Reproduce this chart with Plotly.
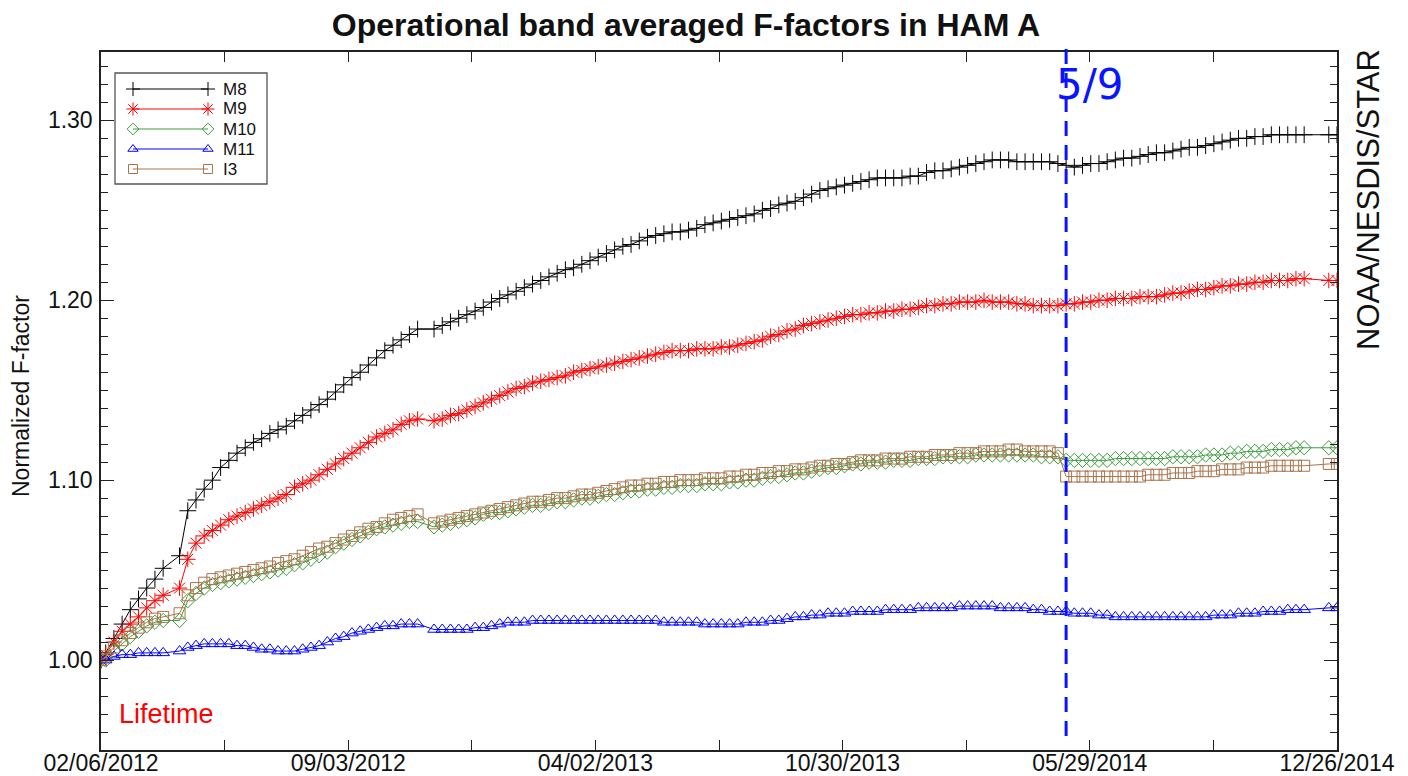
import pandas as pd
import plotly.graph_objects as go

# ---- sampling dates -------------------------------------------------------
FIRST_DAY = "2012-02-06"
LAST_DAY = "2014-12-26"
FIRST_FRIDAY = "2012-02-10"
N_FRIDAYS = 150
MISSING_WEEKS = [8, 39, 147, 148]
EVENT_DAY = "2014-05-09"

TICK_LABELS = ["02/06/2012", "09/03/2012", "04/02/2013",
               "10/30/2013", "05/29/2014", "12/26/2014"]

# ---- band averaged F-factors, normalized to the first value --------------
M8 = [1.000,
      1.004, 1.012, 1.020, 1.028, 1.034, 1.040, 1.045, 1.051,
      1.058, 1.083, 1.089, 1.095, 1.100, 1.107, 1.111, 1.115, 1.118, 1.121,
      1.123, 1.126, 1.128, 1.130, 1.133, 1.136, 1.139, 1.142, 1.145, 1.149,
      1.153, 1.157, 1.160, 1.164, 1.168, 1.172, 1.175, 1.178, 1.181, 1.184,
      1.184, 1.186, 1.188, 1.190, 1.192, 1.194, 1.196, 1.199, 1.201, 1.203,
      1.205, 1.207, 1.209, 1.211, 1.213, 1.215, 1.217, 1.218, 1.220, 1.222,
      1.224, 1.226, 1.228, 1.230, 1.231, 1.233, 1.235, 1.236, 1.237, 1.238,
      1.238, 1.239, 1.240, 1.242, 1.243, 1.244, 1.245, 1.246, 1.247, 1.248,
      1.250, 1.251, 1.253, 1.254, 1.255, 1.257, 1.259, 1.261, 1.262, 1.263,
      1.264, 1.265, 1.266, 1.267, 1.268, 1.268, 1.268, 1.268, 1.269, 1.269,
      1.271, 1.272, 1.272, 1.273, 1.274, 1.275, 1.276, 1.277, 1.278, 1.278,
      1.278, 1.277, 1.277, 1.277, 1.277, 1.277, 1.276, 1.275, 1.274, 1.275,
      1.276, 1.276, 1.277, 1.278, 1.279, 1.279, 1.280, 1.281, 1.282, 1.282,
      1.283, 1.284, 1.285, 1.285, 1.286, 1.287, 1.288, 1.289, 1.290, 1.290,
      1.291, 1.291, 1.292, 1.292, 1.292, 1.292, 1.292,
      1.292, 1.292]

M9 = [1.000,
      1.003, 1.010, 1.016, 1.020, 1.024, 1.029, 1.033, 1.036,
      1.040, 1.056, 1.065, 1.069, 1.072, 1.075, 1.078, 1.080, 1.082, 1.084,
      1.086, 1.088, 1.090, 1.092, 1.096, 1.098, 1.100, 1.103, 1.106, 1.109,
      1.112, 1.115, 1.118, 1.121, 1.124, 1.126, 1.128, 1.131, 1.133, 1.134,
      1.133, 1.134, 1.136, 1.137, 1.139, 1.141, 1.143, 1.145, 1.147, 1.149,
      1.151, 1.152, 1.154, 1.155, 1.156, 1.157, 1.158, 1.160, 1.161, 1.162,
      1.163, 1.164, 1.165, 1.166, 1.167, 1.168, 1.169, 1.170, 1.171, 1.172,
      1.172, 1.172, 1.173, 1.173, 1.173, 1.174, 1.174, 1.175, 1.176, 1.177,
      1.178, 1.180, 1.181, 1.183, 1.184, 1.186, 1.187, 1.188, 1.189, 1.190,
      1.191, 1.192, 1.192, 1.193, 1.193, 1.194, 1.194, 1.195, 1.195, 1.196,
      1.197, 1.197, 1.198, 1.198, 1.199, 1.199, 1.199, 1.200, 1.199, 1.199,
      1.199, 1.198, 1.198, 1.197, 1.197, 1.197, 1.197, 1.198, 1.198, 1.199,
      1.199, 1.200, 1.200, 1.201, 1.201, 1.201, 1.202, 1.202, 1.202, 1.203,
      1.204, 1.204, 1.205, 1.206, 1.206, 1.207, 1.208, 1.208, 1.209, 1.209,
      1.210, 1.210, 1.211, 1.211, 1.211, 1.212, 1.212,
      1.211, 1.211]

M10 = [1.000,
       1.000, 1.005, 1.009, 1.013, 1.016, 1.019, 1.021, 1.022,
       1.022, 1.033, 1.037, 1.040, 1.042, 1.043, 1.044, 1.045, 1.046, 1.047,
       1.048, 1.049, 1.050, 1.051, 1.053, 1.054, 1.056, 1.058, 1.060, 1.063,
       1.065, 1.067, 1.069, 1.071, 1.073, 1.074, 1.075, 1.076, 1.077, 1.077,
       1.074, 1.075, 1.076, 1.077, 1.078, 1.079, 1.081, 1.082, 1.082, 1.083,
       1.084, 1.085, 1.086, 1.086, 1.087, 1.088, 1.088, 1.089, 1.090, 1.090,
       1.091, 1.092, 1.092, 1.093, 1.094, 1.094, 1.095, 1.095, 1.096, 1.096,
       1.097, 1.097, 1.097, 1.098, 1.098, 1.098, 1.099, 1.099, 1.100, 1.100,
       1.101, 1.102, 1.102, 1.103, 1.104, 1.104, 1.105, 1.106, 1.107, 1.107,
       1.108, 1.109, 1.109, 1.110, 1.110, 1.110, 1.111, 1.111, 1.111, 1.112,
       1.112, 1.112, 1.113, 1.113, 1.113, 1.113, 1.114, 1.114, 1.114, 1.114,
       1.114, 1.114, 1.114, 1.114, 1.113, 1.113, 1.113, 1.111, 1.111, 1.111,
       1.111, 1.111, 1.111, 1.112, 1.112, 1.112, 1.112, 1.112, 1.112, 1.112,
       1.113, 1.113, 1.113, 1.113, 1.114, 1.114, 1.114, 1.115, 1.115, 1.116,
       1.116, 1.116, 1.117, 1.117, 1.117, 1.118, 1.118,
       1.118, 1.118]

M11 = [1.000,
       1.000, 1.002, 1.003, 1.003, 1.004, 1.004, 1.004, 1.004,
       1.005, 1.007, 1.008, 1.009, 1.009, 1.009, 1.009, 1.008, 1.008, 1.007,
       1.006, 1.006, 1.005, 1.005, 1.005, 1.006, 1.007, 1.008, 1.010, 1.012,
       1.013, 1.015, 1.016, 1.017, 1.018, 1.019, 1.019, 1.020, 1.020, 1.020,
       1.017, 1.017, 1.017, 1.017, 1.017, 1.018, 1.018, 1.019, 1.020, 1.021,
       1.021, 1.021, 1.022, 1.022, 1.022, 1.022, 1.022, 1.022, 1.022, 1.022,
       1.022, 1.022, 1.022, 1.022, 1.022, 1.022, 1.022, 1.022, 1.021, 1.021,
       1.021, 1.021, 1.021, 1.020, 1.020, 1.020, 1.020, 1.020, 1.021, 1.021,
       1.021, 1.022, 1.022, 1.023, 1.024, 1.024, 1.025, 1.025, 1.026, 1.026,
       1.026, 1.027, 1.027, 1.027, 1.027, 1.028, 1.028, 1.028, 1.028, 1.029,
       1.029, 1.029, 1.029, 1.029, 1.030, 1.030, 1.030, 1.030, 1.030, 1.029,
       1.029, 1.029, 1.029, 1.028, 1.028, 1.027, 1.027, 1.027, 1.026, 1.026,
       1.026, 1.025, 1.025, 1.024, 1.024, 1.024, 1.024, 1.024, 1.024, 1.024,
       1.024, 1.024, 1.024, 1.024, 1.024, 1.025, 1.025, 1.025, 1.026, 1.026,
       1.026, 1.027, 1.027, 1.027, 1.028, 1.028, 1.028,
       1.029, 1.029]

I3 = [1.000,
      1.002, 1.007, 1.011, 1.015, 1.018, 1.021, 1.023, 1.024,
      1.026, 1.036, 1.040, 1.043, 1.045, 1.046, 1.047, 1.048, 1.049, 1.050,
      1.051, 1.052, 1.054, 1.055, 1.056, 1.058, 1.060, 1.062, 1.063, 1.065,
      1.067, 1.069, 1.071, 1.073, 1.074, 1.076, 1.078, 1.079, 1.080, 1.081,
      1.076, 1.077, 1.078, 1.079, 1.080, 1.081, 1.082, 1.083, 1.084, 1.085,
      1.086, 1.087, 1.088, 1.088, 1.089, 1.090, 1.090, 1.091, 1.092, 1.092,
      1.093, 1.094, 1.095, 1.096, 1.097, 1.097, 1.098, 1.098, 1.099, 1.099,
      1.100, 1.100, 1.100, 1.101, 1.101, 1.101, 1.102, 1.102, 1.103, 1.103,
      1.104, 1.104, 1.105, 1.105, 1.106, 1.106, 1.107, 1.108, 1.108, 1.109,
      1.109, 1.110, 1.111, 1.111, 1.111, 1.112, 1.112, 1.112, 1.113, 1.113,
      1.113, 1.114, 1.114, 1.114, 1.115, 1.115, 1.115, 1.116, 1.116, 1.116,
      1.117, 1.117, 1.116, 1.116, 1.116, 1.116, 1.115, 1.102, 1.102, 1.102,
      1.102, 1.102, 1.102, 1.102, 1.102, 1.102, 1.102, 1.103, 1.103, 1.103,
      1.104, 1.104, 1.104, 1.105, 1.105, 1.105, 1.106, 1.106, 1.106, 1.107,
      1.107, 1.107, 1.108, 1.108, 1.108, 1.108, 1.108,
      1.109, 1.109]

BANDS = ["M8", "M9", "M10", "M11", "I3"]
COLORS = ["#000000", "#ff0000", "#3c9c3c", "#0000ff", "#a8744c"]
SYMBOLS = ["cross-thin", "asterisk-open", "diamond-open",
           "triangle-up-open", "square-open"]
SIZES = [12, 13, 11, 11, 11]
VALUES = [M8, M9, M10, M11, I3]

# ---- build the date axis --------------------------------------------------
fridays = pd.date_range(FIRST_FRIDAY, periods=N_FRIDAYS, freq="7D")
fridays = [d for i, d in enumerate(fridays) if i not in MISSING_WEEKS]
dates = [pd.Timestamp(FIRST_DAY)] + list(fridays) + [pd.Timestamp(LAST_DAY)]
for v in VALUES:
    assert len(v) == len(dates), (len(v), len(dates))

t0, t1 = pd.Timestamp(FIRST_DAY), pd.Timestamp(LAST_DAY)
step = (t1 - t0) / 10
tickvals = [t0 + step * i for i in range(11)]
ticktext = [TICK_LABELS[i // 2] if i % 2 == 0 else "" for i in range(11)]

FONT = "Liberation Sans, Arial, Helvetica, sans-serif"

# plot area in pixels (left, top, right, bottom) of a 1408x776 page
L, T, R, B = 101, 52, 1337, 750
W, H = 1408, 776


def px(x):
    return (x - L) / (R - L)


def py(y):
    return (B - y) / (B - T)


fig = go.Figure()

for name, vals, col, sym, size in zip(BANDS, VALUES, COLORS, SYMBOLS, SIZES):
    fig.add_trace(go.Scatter(
        x=dates, y=vals, mode="lines+markers", name=name, showlegend=False,
        line=dict(color=col, width=1),
        marker=dict(symbol=sym, size=size, color=col,
                    line=dict(color=col, width=1)),
    ))

# ---- hand-drawn key box in the upper left --------------------------------
key_rows = [89, 109, 129, 149, 169]
for name, col, sym, size, ry in zip(BANDS, COLORS, SYMBOLS, SIZES, key_rows):
    fig.add_trace(go.Scatter(
        x=[px(133), px(208)], y=[py(ry), py(ry)], xaxis="x2", yaxis="y2",
        mode="lines+markers", showlegend=False, hoverinfo="skip",
        cliponaxis=False,
        line=dict(color=col, width=1),
        marker=dict(symbol=sym, size=size - 2, color=col,
                    line=dict(color=col, width=1)),
    ))
    fig.add_annotation(xref="paper", yref="paper", x=px(221), y=py(ry),
                       text=name, showarrow=False, xanchor="left",
                       yanchor="middle",
                       font=dict(family=FONT, size=17, color="#111"))

fig.add_shape(type="rect", xref="paper", yref="paper",
              x0=px(115), x1=px(267), y0=py(184), y1=py(73),
              line=dict(color="#555", width=1.3), fillcolor="white",
              layer="below")

# ---- event marker ---------------------------------------------------------
fig.add_shape(type="line", xref="x", yref="paper", x0=EVENT_DAY, x1=EVENT_DAY,
              y0=py(736), y1=py(48),
              line=dict(color="#0a14ff", width=3, dash="15px,9px"))
fig.add_annotation(xref="x", yref="paper", x=EVENT_DAY, y=py(84),
                   text="5/9", showarrow=False, xanchor="left",
                   yanchor="middle", xshift=-12,
                   font=dict(family="DejaVu Sans, sans-serif", size=42,
                             color="#0a14ff"))

# ---- text labels ----------------------------------------------------------
fig.add_annotation(xref="paper", yref="paper", x=px(117), y=py(714),
                   text="Lifetime", showarrow=False, xanchor="left",
                   yanchor="middle",
                   font=dict(family=FONT, size=27, color="#ff0000"))
fig.add_annotation(xref="paper", yref="paper", x=px(1368), y=py(200),
                   text="NOAA/NESDIS/STAR", showarrow=False, textangle=-90,
                   xanchor="center", yanchor="middle",
                   font=dict(family=FONT, size=31, color="#111"))
fig.add_annotation(xref="paper", yref="paper", x=px(21), y=py(396),
                   text="Normalized F-factor", showarrow=False, textangle=-90,
                   xanchor="center", yanchor="middle",
                   font=dict(family=FONT, size=23, color="#111"))

axis_common = dict(showline=True, linecolor="#222", linewidth=1.5,
                   mirror="ticks", ticks="inside", tickcolor="#222",
                   tickwidth=1.3, showgrid=False, zeroline=False,
                   automargin=False)

fig.update_layout(
    width=W, height=H,
    margin=dict(l=L, r=W - R, t=T, b=H - B, pad=0),
    paper_bgcolor="white", plot_bgcolor="white",
    title=dict(text="<b>Operational band averaged F-factors in HAM A</b>",
               x=px(686), xref="paper", xanchor="center",
               y=1 - 25 / H, yref="container", yanchor="middle",
               font=dict(family=FONT, size=32, color="#111")),
    xaxis=dict(type="date", range=[t0, t1], tickmode="array",
               tickvals=tickvals, ticktext=ticktext, ticklen=10,
               ticklabelstandoff=-8,
               tickfont=dict(family=FONT, size=23, color="#111"),
               **axis_common),
    yaxis=dict(range=[0.95, 1.338], tickmode="linear", tick0=1.0, dtick=0.1,
               tickformat=".2f", ticklen=13, ticklabelstandoff=2,
               tickfont=dict(family=FONT, size=23, color="#111"),
               minor=dict(tickmode="linear", tick0=1.0, dtick=0.01,
                          ticklen=7, ticks="inside",
                          tickcolor="#222", tickwidth=1.2),
               **axis_common),
    xaxis2=dict(overlaying="x", range=[0, 1], visible=False, anchor="y2"),
    yaxis2=dict(overlaying="y", range=[0, 1], visible=False, anchor="x2"),
)

fig.write_html("out.html")
